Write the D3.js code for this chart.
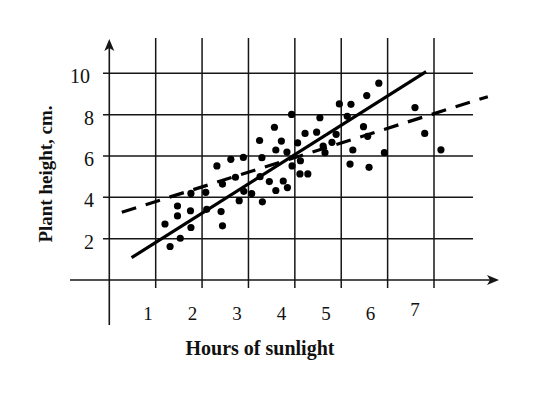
<!DOCTYPE html>
<html>
<head>
<meta charset="utf-8">
<script src="https://cdn.jsdelivr.net/npm/d3@7"></script>
<style>
  body { margin: 0; background: #fff; }
  svg { display: block; }
  text { font-family: "Liberation Serif", "Times New Roman", serif; fill: #111; }
</style>
</head>
<body>
<svg id="chart"></svg>
<script>
// hours of sunlight vs plant height (cm)
let hours = [1.20,1.47,1.47,1.31,1.53,1.75,1.76,1.76,2.08,2.10,2.32,2.41,2.44,2.44,2.62,2.72,2.80,2.89,2.90,3.07,
  3.29,3.25,3.30,3.45,3.59,3.75,3.84,3.59,3.83,3.94,4.12,4.11,4.28,3.24,3.56,3.71,4.06,4.22,3.93,4.47,
  4.54,4.61,4.65,4.80,4.89,4.96,5.21,5.13,5.25,5.19,5.48,5.57,5.60,5.55,5.81,5.93,6.59,6.80,7.15];
let heights = [2.71,3.58,3.10,1.62,2.02,3.35,4.19,2.54,4.24,3.42,5.52,3.31,2.62,4.64,5.84,4.97,3.84,5.93,4.29,4.18,
  5.92,5.00,3.78,4.76,4.33,4.79,4.47,6.29,6.19,5.52,5.77,5.13,5.13,6.75,7.39,6.72,6.63,7.09,8.01,7.15,
  7.85,6.48,6.16,6.66,7.05,8.52,8.50,7.92,6.29,5.61,7.42,6.95,5.45,8.92,9.52,6.16,8.34,7.09,6.30];

// the two fitted lines, as end points
let solidLine = [[0.48,1.08],[6.83,10.08]];
let dashedLine = [[0.27,3.28],[8.16,8.87]];

let xTicks = [1,2,3,4,5,6,7];
let yTicks = [2,4,6,8,10];

let W = 549, H = 401;
let chart = d3.select('#chart').attr('width',W).attr('height',H);

let x = d3.scaleLinear().domain([0,7]).range([109.3,434]);
let y = d3.scaleLinear().domain([0,10]).range([280,73.3]);
// the x labels in the picture sit a little left of their grid lines
let xLab = d3.scaleLinear().domain([1,7]).range([148,415]);

let ink = '#161616';

// grid
chart.append('g').selectAll('line').data(xTicks).enter().append('line')
  .attr('x1',d=>x(d)).attr('x2',d=>x(d))
  .attr('y1',38).attr('y2',288)
  .attr('stroke',ink).attr('stroke-width',1.5);

chart.append('g').selectAll('line').data(yTicks).enter().append('line')
  .attr('x1',103).attr('x2',473)
  .attr('y1',d=>y(d)).attr('y2',d=>y(d))
  .attr('stroke',ink).attr('stroke-width',1.5);

// axes with arrow heads
chart.append('line')
  .attr('x1',70).attr('x2',492).attr('y1',y(0)).attr('y2',y(0))
  .attr('stroke',ink).attr('stroke-width',1.6);
chart.append('line')
  .attr('x1',x(0)).attr('x2',x(0)).attr('y1',325).attr('y2',46)
  .attr('stroke',ink).attr('stroke-width',1.6);

let y0 = y(0), x0 = x(0);
chart.append('path')
  .attr('d',`M499,${y0} L487,${y0-5} L490,${y0} L487,${y0+5} Z`)
  .attr('fill',ink);
chart.append('path')
  .attr('d',`M${x0},39 L${x0-5},51 L${x0},48 L${x0+5},51 Z`)
  .attr('fill',ink);

// tick labels
chart.append('g').selectAll('text').data(xTicks).enter().append('text')
  .attr('x',d=>xLab(d)).attr('y',d=>d==7?316:320)
  .attr('text-anchor','middle')
  .attr('font-size',19)
  .text(d=>d);

chart.append('g').selectAll('text').data(yTicks).enter().append('text')
  .attr('x',d=>d==10?90:94).attr('y',d=>y(d)+10)
  .attr('text-anchor','end')
  .attr('font-size',20)
  .text(d=>d);

// axis titles
chart.append('text')
  .attr('x',260).attr('y',355)
  .attr('text-anchor','middle')
  .attr('font-size',20).attr('font-weight','bold')
  .text('Hours of sunlight');

chart.append('text')
  .attr('transform','translate(52,174) rotate(-90)')
  .attr('text-anchor','middle')
  .attr('font-size',19).attr('font-weight','bold')
  .text('Plant height, cm.');

// fitted lines
let line = d3.line().x(d=>x(d[0])).y(d=>y(d[1]));
chart.append('path').datum(solidLine)
  .attr('d',line).attr('fill','none')
  .attr('stroke','#000').attr('stroke-width',3.2);
chart.append('path').datum(dashedLine)
  .attr('d',line).attr('fill','none')
  .attr('stroke','#000').attr('stroke-width',3.2)
  .attr('stroke-dasharray','15,10');

// points
chart.append('g').selectAll('circle').data(hours).enter().append('circle')
  .attr('cx',d=>x(d))
  .attr('cy',(d,i)=>y(heights[i]))
  .attr('r',3.6)
  .attr('fill','#000');
</script>
</body>
</html>
